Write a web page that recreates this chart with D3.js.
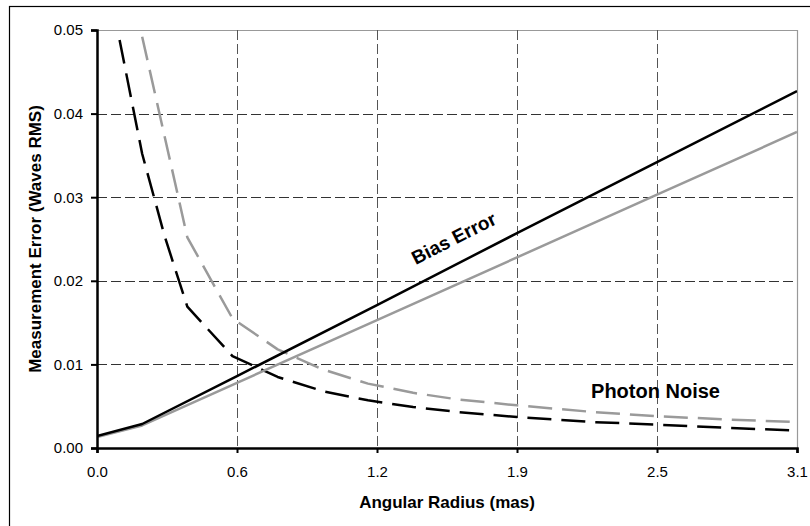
<!DOCTYPE html>
<html>
<head>
<meta charset="utf-8">
<script src="https://cdn.jsdelivr.net/npm/d3@7"></script>
<style>
  html, body { margin: 0; padding: 0; background: #fff; }
  svg { display: block; font-family: "Liberation Sans", Arial, sans-serif; }
</style>
</head>
<body>
<svg id="chart" width="810" height="526"></svg>
<script>
// Bias error vs angular radius (two cases: black and grey)
const biasRadius = [0, 0.2, 0.62, 1.24, 1.86, 2.48, 3.1];
const biasBlack  = [0.00144, 0.00287, 0.0086, 0.0171, 0.0257, 0.0342, 0.0427];
const biasGray   = [0.00130, 0.00270, 0.0078, 0.0153, 0.0228, 0.0303, 0.0378];

// Photon noise vs angular radius
const noiseRadiusBlack = [0.1, 0.2, 0.3, 0.4, 0.6, 0.8, 1.0, 1.2, 1.4, 1.6, 1.86, 2.2, 2.48, 2.8, 3.1];
const noiseBlack       = [0.0488, 0.0352, 0.0253, 0.0169, 0.0110, 0.0085, 0.0068, 0.0057, 0.0049, 0.0043, 0.0037, 0.0031, 0.0028, 0.0024, 0.0021];
const noiseRadiusGray  = [0.2, 0.4, 0.6, 0.8, 1.0, 1.2, 1.4, 1.6, 1.86, 2.2, 2.48, 2.8, 3.1];
const noiseGray        = [0.0492, 0.0252, 0.0155, 0.0118, 0.0094, 0.0077, 0.0066, 0.0058, 0.0051, 0.0043, 0.0038, 0.0034, 0.0031];

// Axis ticks
const xTicks = [0, 0.62, 1.24, 1.86, 2.48, 3.1];
const yTicks = [0, 0.01, 0.02, 0.03, 0.04, 0.05];

const svg = d3.select("#chart");
const plot = { left: 97, right: 797, top: 30, bottom: 448 };

const x = d3.scaleLinear().domain([0, 3.1]).range([plot.left, plot.right]);
const y = d3.scaleLinear().domain([0, 0.05]).range([plot.bottom, plot.top]);

// outer chart frame
svg.append("rect")
  .attr("x", 9.5).attr("y", 6.5)
  .attr("width", 900).attr("height", 600)
  .attr("fill", "none").attr("stroke", "#000").attr("stroke-width", 1.2);

svg.append("defs").append("clipPath").attr("id", "plotClip")
  .append("rect")
  .attr("x", plot.left).attr("y", plot.top)
  .attr("width", plot.right - plot.left).attr("height", plot.bottom - plot.top);

// plot-area border (top and right in grey)
svg.append("path")
  .attr("d", `M${plot.left},${plot.top + 0.5}H${plot.right + 0.5}V${plot.bottom}`)
  .attr("fill", "none").attr("stroke", "#999").attr("stroke-width", 1.2);

// dashed gridlines
const grid = svg.append("g").attr("stroke", "#333").attr("stroke-width", 1)
  .attr("stroke-dasharray", "10,4").attr("fill", "none");
grid.selectAll("line.h").data(yTicks.filter(v => v > 0 && v < 0.05)).join("line")
  .attr("class", "h")
  .attr("x1", plot.left).attr("x2", plot.right)
  .attr("y1", d => Math.round(y(d)) + 0.5).attr("y2", d => Math.round(y(d)) + 0.5);
grid.selectAll("line.v").data(xTicks.filter(v => v > 0 && v < 3.1)).join("line")
  .attr("class", "v")
  .attr("stroke", "#555")
  .attr("y1", plot.top).attr("y2", plot.bottom)
  .attr("x1", d => Math.round(x(d)) + 0.5).attr("x2", d => Math.round(x(d)) + 0.5);

// series
const line = d3.line().x(d => x(d[0])).y(d => y(d[1]));
const series = [
  { r: noiseRadiusGray,  v: noiseGray,  color: "#9a9a9a", dash: "24,10" },
  { r: noiseRadiusBlack, v: noiseBlack, color: "#000",    dash: "24,10" },
  { r: biasRadius,       v: biasGray,   color: "#9a9a9a", dash: null },
  { r: biasRadius,       v: biasBlack,  color: "#000",    dash: null }
];
const lines = svg.append("g").attr("clip-path", "url(#plotClip)");
series.forEach(s => {
  lines.append("path")
    .datum(s.r.map((r, i) => [r, s.v[i]]))
    .attr("d", line)
    .attr("fill", "none")
    .attr("stroke", s.color)
    .attr("stroke-width", 2.5)
    .attr("stroke-linejoin", "round")
    .attr("stroke-dasharray", s.dash);
});

// axes
const xAxis = svg.append("g")
  .attr("transform", `translate(0,${plot.bottom})`)
  .call(d3.axisBottom(x).tickValues(xTicks).tickFormat(d3.format(".1f")).tickSizeOuter(0).tickSize(5).tickPadding(13));
const yAxis = svg.append("g")
  .attr("transform", `translate(${plot.left},0)`)
  .call(d3.axisLeft(y).tickValues(yTicks).tickFormat(d3.format(".2f")).tickSizeOuter(0).tickSize(6).tickPadding(8));

[xAxis, yAxis].forEach(a => {
  a.select(".domain").attr("stroke", "#000").attr("stroke-width", 2.5);
  a.selectAll(".tick line").attr("stroke", "#000").attr("stroke-width", 2);
  a.selectAll(".tick text").attr("fill", "#000")
    .style("font-size", "15px").style("font-family", "'Liberation Sans', Arial, sans-serif");
});

// axis titles
svg.append("text")
  .attr("x", (plot.left + plot.right) / 2).attr("y", 508)
  .attr("text-anchor", "middle")
  .style("font-size", "17px").style("font-weight", "bold")
  .text("Angular Radius (mas)");

svg.append("text")
  .attr("transform", `translate(41,${(plot.top + plot.bottom) / 2}) rotate(-90)`)
  .attr("text-anchor", "middle")
  .style("font-size", "17px").style("font-weight", "bold")
  .text("Measurement Error (Waves RMS)");

// curve labels
const biasAngle = Math.atan2(y(biasBlack[6]) - y(biasBlack[1]), x(biasRadius[6]) - x(biasRadius[1])) * 180 / Math.PI;
svg.append("text")
  .attr("transform", `translate(${x(1.58)},${y(0.0251)}) rotate(${biasAngle})`)
  .attr("text-anchor", "middle").attr("dy", "0.35em")
  .style("font-size", "19px").style("font-weight", "bold")
  .text("Bias Error");

svg.append("text")
  .attr("x", x(2.188)).attr("y", y(0.00598))
  .style("font-size", "20px").style("font-weight", "bold")
  .text("Photon Noise");
</script>
</body>
</html>
